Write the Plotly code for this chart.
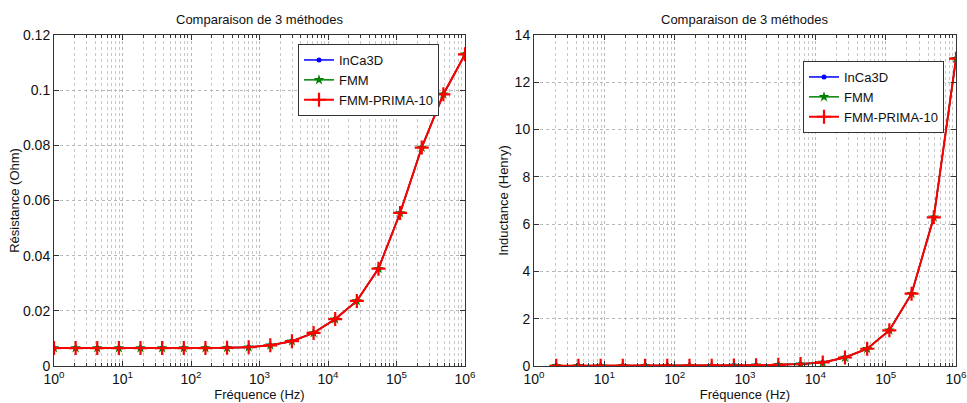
import numpy as np
import plotly.graph_objects as go

# Frequencies (Hz): 20 points logarithmically spaced between 1 Hz and 1 MHz
freq = [1.0, 2.07, 4.28, 8.86, 18.3, 37.9, 78.5, 162.4, 336.0, 695.2,
        1438.4, 2976.4, 6158.5, 12742.7, 26366.5, 54555.9, 112883.8,
        233572.1, 483293.0, 1000000.0]

# Left panel: resistance (Ohm)
res_inca3d = [0.0065, 0.0065, 0.0065, 0.0065, 0.0065, 0.0065, 0.0065, 0.0065, 0.0066, 0.0068,
              0.0075, 0.0090, 0.0120, 0.0170, 0.0236, 0.0353, 0.0555, 0.0792, 0.0985, 0.1130]
res_fmm = list(res_inca3d)
res_prima = list(res_inca3d)

# Right panel: inductance (Henry) – starts at the 2nd frequency
freq_l = freq[1:]
ind_inca3d = [0.01, 0.01, 0.01, 0.01, 0.01, 0.01, 0.01, 0.015, 0.02,
              0.03, 0.05, 0.08, 0.15, 0.36, 0.73, 1.51, 3.06, 6.29, 13.0]
ind_fmm = list(ind_inca3d)
ind_prima = list(ind_inca3d)

names = ["InCa3D", "FMM", "FMM-PRIMA-10"]
colors = ["#0000ff", "#008000", "#ff0000"]

# minor log grid positions (2..9 x 10^k)
minor_vals = [m * 10 ** k for k in range(6) for m in range(2, 10)]

FONT = "Liberation Sans, Arial, sans-serif"

fig = go.Figure()

def add_series(x, ys, xa, ya, leg):
    styles = [
        dict(symbol="circle", size=5),
        dict(symbol="star", size=8),
        dict(symbol="cross-thin", size=10, line=dict(width=2.2, color=colors[2])),
    ]
    for name, y, c, m in zip(names, ys, colors, styles):
        mk = dict(color=c, **m)
        if "line" not in mk:
            mk["line"] = dict(width=0)
        fig.add_trace(go.Scatter(
            x=x, y=y, name=name, mode="lines+markers",
            line=dict(color=c, width=2 if c == "#ff0000" else 1.5),
            marker=mk, xaxis=xa, yaxis=ya, legend=leg,
        ))

add_series(freq, [res_inca3d, res_fmm, res_prima], "x", "y", "legend")
add_series(freq_l, [ind_inca3d, ind_fmm, ind_prima], "x2", "y2", "legend2")

W, H = 967, 403
dom_y = [1 - 366 / H, 1 - 35 / H]
dom_x1 = [54 / W, 465 / W]
dom_x2 = [534 / W, 956 / W]

tickvals = [1, 10, 100, 1000, 1e4, 1e5, 1e6]
ticktext = ["10<sup>%d</sup>" % i for i in range(7)]

grid = dict(showgrid=True, gridcolor="#b8b8b8", griddash="dot", gridwidth=1)
axis_common = dict(
    showline=True, mirror="allticks", linecolor="#333333", linewidth=1,
    ticks="inside", ticklen=5, tickcolor="#333333", automargin=False,
    ticklabeloverflow="allow",
    zeroline=False, tickfont=dict(family=FONT, size=14, color="#111"),
    **grid,
)

def xaxis(dom, anchor):
    return dict(
        type="log", domain=dom, anchor=anchor, range=[0, 6],
        tickvals=tickvals, ticktext=ticktext,
        minor=dict(tickmode="array", tickvals=minor_vals, ticks="inside", ticklen=3,
                   tickcolor="#333333", showgrid=True, gridcolor="#c8c8c8",
                   griddash="dot", gridwidth=1),
        title=dict(text="Fréquence (Hz)", font=dict(family=FONT, size=13, color="#111"), standoff=0),
        **axis_common,
    )

leg_common = dict(xanchor="left", yanchor="top",
                  bgcolor="white", bordercolor="#333333", borderwidth=1,
                  font=dict(family=FONT, size=13, color="#111"),
                  tracegroupgap=0, itemwidth=30)

fig.update_layout(
    width=W, height=H,
    margin=dict(l=0, r=0, t=0, b=0),
    paper_bgcolor="white", plot_bgcolor="white",
    font=dict(family=FONT, color="#111"),
    xaxis=xaxis(dom_x1, "y"),
    xaxis2=xaxis(dom_x2, "y2"),
    yaxis=dict(domain=dom_y, anchor="x", range=[0, 0.12], dtick=0.02,
               title=dict(text="Résistance (Ohm)", font=dict(family=FONT, size=13, color="#111"), standoff=0),
               **axis_common),
    yaxis2=dict(domain=dom_y, anchor="x2", range=[0, 14], dtick=2,
                title=dict(text="Inductance (Henry)", font=dict(family=FONT, size=13, color="#111"), standoff=3),
                **axis_common),
    legend=dict(x=298 / W, y=1 - 44 / H, **leg_common),
    legend2=dict(x=803 / W, y=1 - 61 / H, **leg_common),
    showlegend=True,
    annotations=[
        dict(text="Comparaison de 3 méthodes", x=(dom_x1[0] + dom_x1[1]) / 2, y=1 - 19 / H,
             xref="paper", yref="paper", xanchor="center", yanchor="middle", showarrow=False,
             font=dict(family=FONT, size=13, color="#111")),
        dict(text="Comparaison de 3 méthodes", x=(dom_x2[0] + dom_x2[1]) / 2, y=1 - 19 / H,
             xref="paper", yref="paper", xanchor="center", yanchor="middle", showarrow=False,
             font=dict(family=FONT, size=13, color="#111")),
    ],
)

fig.write_html("out.html", config={"displayModeBar": False},
               post_script="document.body.style.margin='0';document.body.style.overflow='hidden';")
